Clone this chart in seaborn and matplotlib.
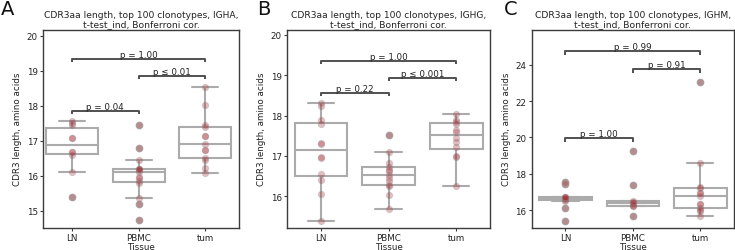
import numpy as np
import pandas as pd
import matplotlib
matplotlib.use("Agg")
import matplotlib.pyplot as plt
import seaborn as sns

sns.set_theme(style="ticks")
plt.rcParams['font.family'] = ['DejaVu Sans']

tissues = ["LN", "PBMC", "tum"]
isotypes = ["IGHA", "IGHG", "IGHM"]
panel_letters = ["A", "B", "C"]

# CDR3 length values per isotype / tissue
igha_ln = [15.4, 16.1, 16.6, 16.68, 16.68, 17.06, 17.08, 17.45, 17.5, 17.55]
igha_pbmc = [14.72, 15.18, 15.36, 15.8, 15.84, 15.92, 15.95, 16.1, 16.15, 16.18, 16.2, 16.2, 16.44, 16.8, 17.44]
igha_tum = [16.08, 16.22, 16.45, 16.49, 16.72, 16.74, 16.91, 17.12, 17.14, 17.38, 17.46, 18.03, 18.52]

ighg_ln = [15.38, 16.06, 16.4, 16.55, 16.95, 16.97, 17.3, 17.32, 17.8, 17.9, 18.25, 18.3]
ighg_pbmc = [15.68, 16.04, 16.25, 16.28, 16.38, 16.45, 16.53, 16.62, 16.66, 16.73, 16.82, 17.1, 17.52]
ighg_tum = [16.25, 16.98, 17.0, 17.22, 17.35, 17.45, 17.6, 17.65, 17.8, 17.83, 17.9, 18.04]

ighm_ln = [15.41, 16.09, 16.52, 16.54, 16.6, 16.64, 16.7, 16.72, 16.74, 17.43, 17.56]
ighm_pbmc = [15.65, 16.2, 16.24, 16.3, 16.37, 16.42, 16.48, 17.38, 19.26]
ighm_tum = [15.69, 15.93, 16.0, 16.11, 16.31, 16.33, 16.8, 16.92, 16.95, 17.23, 17.27, 18.57, 23.03]

# statistical annotations: (group1, group2, bracket level, label)
annot_igha = [("LN", "PBMC", 17.86, "p = 0.04"), ("PBMC", "tum", 18.85, "p \u2264 0.01"), ("LN", "tum", 19.34, "p = 1.00")]
annot_ighg = [("LN", "PBMC", 18.55, "p = 0.22"), ("PBMC", "tum", 18.93, "p \u2264 0.001"), ("LN", "tum", 19.35, "p = 1.00")]
annot_ighm = [("LN", "PBMC", 19.95, "p = 1.00"), ("PBMC", "tum", 23.74, "p = 0.91"), ("LN", "tum", 24.73, "p = 0.99")]

panel_data = [
    (igha_ln, igha_pbmc, igha_tum, annot_igha),
    (ighg_ln, ighg_pbmc, ighg_tum, annot_ighg),
    (ighm_ln, ighm_pbmc, ighm_tum, annot_ighm),
]

# layout / style
W, H = 735, 251
fig = plt.figure(figsize=(W / 100, H / 100), dpi=100)
axes_px = [(43.3, 239.3), (287.3, 490.0), (531.7, 734.0)]
top_px, bot_px = 30.7, 228.7
ylims = [(14.51, 20.17), (15.22, 20.13), (15.03, 25.93)]
xlims = [(-0.43, 2.51), (-0.5, 2.5), (-0.5, 2.5)]
yticks = [np.arange(15, 21, 1), np.arange(16, 21, 1), np.arange(16, 25, 2)]
bracket_drop = [0.09, 0.07, 0.22]
letter_x = [1, 257, 504]

fs = 6.3
box_gray = "#ababab"
spine_col = "#3c3c3c"

for i, (ln, pb, tu, annots) in enumerate(panel_data):
    l, r = axes_px[i]
    ax = fig.add_axes([l / W, (H - bot_px) / H, (r - l) / W, (bot_px - top_px) / H])
    df = pd.DataFrame({
        "Tissue": ["LN"] * len(ln) + ["PBMC"] * len(pb) + ["tum"] * len(tu),
        "len": ln + pb + tu,
    })
    sns.boxplot(data=df, x="Tissue", y="len", order=tissues, ax=ax,
                color="white", linecolor=box_gray, linewidth=1.5, width=0.78,
                flierprops=dict(marker="o", markerfacecolor="#bdb8b9",
                                markeredgecolor="#bdb8b9", markersize=4.6))
    sns.stripplot(data=df, x="Tissue", y="len", order=tissues, ax=ax,
                  jitter=False, color="#a82a30", alpha=0.3, size=4.6,
                  edgecolor="#8f8f8f", linewidth=0.7, zorder=3)
    ax.set_xlim(*xlims[i])
    ax.set_ylim(*ylims[i])
    ax.set_yticks(yticks[i])
    ax.set_yticklabels([str(v) for v in yticks[i]])
    ax.tick_params(axis="both", labelsize=fs, length=2.5, width=0.8, pad=1.5,
                   colors=spine_col, labelcolor="#222222")
    ax.set_xlabel("Tissue", fontsize=fs, labelpad=0, color="#222222")
    ax.set_ylabel("CDR3 length, amino acids", fontsize=fs, labelpad=3, color="#222222")
    for s in ax.spines.values():
        s.set_visible(True)
        s.set_color(spine_col)
        s.set_linewidth(1.0)
    ax.set_title(f"CDR3aa length, top 100 clonotypes, {isotypes[i]},\nt-test_ind, Bonferroni cor.",
                 fontsize=6.6, pad=2.5, color="#222222", linespacing=1.1)
    drop = bracket_drop[i]
    for g1, g2, yv, lab in annots:
        x1, x2 = tissues.index(g1), tissues.index(g2)
        ax.plot([x1, x1, x2, x2], [yv - drop, yv, yv, yv - drop],
                color="#505050", lw=1.4, solid_capstyle="butt", clip_on=False)
        ax.text((x1 + x2) / 2, yv, lab, ha="center", va="bottom",
                fontsize=fs, color="#222222")
    fig.text(letter_x[i] / W, 1 - 15 / H, panel_letters[i], fontsize=14,
             ha="left", va="baseline", color="#111111")

fig.savefig("out.png", dpi=100)
